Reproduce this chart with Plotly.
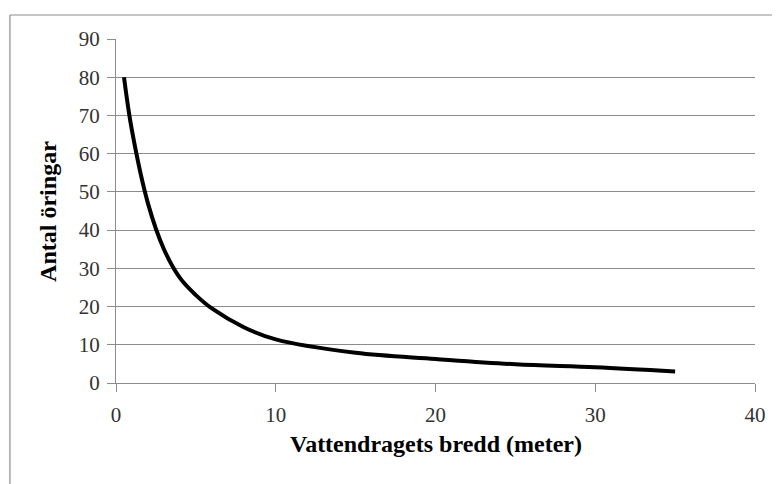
import plotly.graph_objects as go

bredd = [0.5, 1, 2, 3, 4, 5, 6, 8, 10, 15, 20, 25, 30, 35]
antal = [80, 66, 47, 35, 27.5, 23, 19.5, 14.6, 11.4, 7.9, 6.3, 4.9, 4.1, 3]

x_ticks = [0, 10, 20, 30, 40]
y_ticks = [0, 10, 20, 30, 40, 50, 60, 70, 80, 90]

grey = "#8c8c8c"
font = "Liberation Serif"

fig = go.Figure()
fig.add_trace(go.Scatter(
    x=bredd, y=antal, mode="lines",
    line=dict(color="black", width=4, shape="spline", smoothing=1),
    showlegend=False, hoverinfo="skip",
))

fig.update_xaxes(
    range=[0, 40], tickvals=x_ticks, showgrid=False,
    showline=True, linecolor=grey, linewidth=1,
    ticks="outside", ticklen=8, tickcolor=grey,
    tickfont=dict(family=font, size=21, color="#333"),
    ticklabelstandoff=5, zeroline=False,
)
fig.update_yaxes(
    range=[0, 90], tickvals=y_ticks, showgrid=True, gridcolor=grey, gridwidth=1,
    showline=True, linecolor=grey, linewidth=1,
    ticks="outside", ticklen=8, tickcolor=grey,
    tickfont=dict(family=font, size=21, color="#333"),
    ticklabelstandoff=3, zeroline=False,
)

# ram runt diagrammet: bara vänster och överkant syns
fig.add_shape(type="line", xref="paper", yref="paper",
              x0=-0.166, x1=1.2, y0=1.0698, y1=1.0698,
              line=dict(color=grey, width=1.2))
fig.add_shape(type="line", xref="paper", yref="paper",
              x0=-0.166, x1=-0.166, y0=-0.5, y1=1.0698,
              line=dict(color=grey, width=1.2))

fig.add_annotation(text="<b>Vattendragets bredd (meter)</b>", xref="paper", yref="paper",
                   x=0.5, y=-0.177, showarrow=False, yanchor="middle",
                   font=dict(family=font, size=24, color="black"))
fig.add_annotation(text="<b>Antal öringar</b>", xref="paper", yref="paper",
                   x=-0.1066, y=0.5, textangle=-90, showarrow=False, xanchor="center",
                   font=dict(family=font, size=24, color="black"))

fig.update_layout(
    width=780, height=484,
    margin=dict(l=108, r=33, t=31, b=109),
    paper_bgcolor="white", plot_bgcolor="white",
)

fig.write_html("out.html")
